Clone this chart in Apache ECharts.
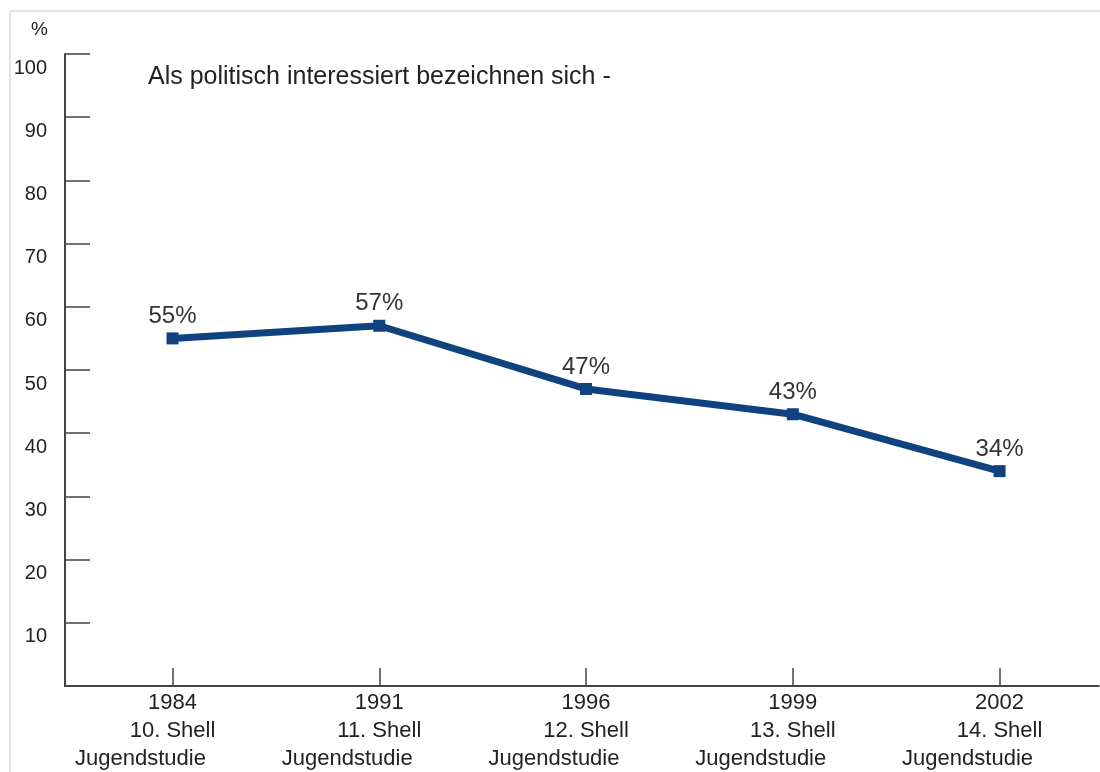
<!DOCTYPE html>
<html>
<head>
<meta charset="utf-8">
<script src="https://cdn.jsdelivr.net/npm/echarts@6/dist/echarts.min.js"></script>
<style>
  html, body { margin: 0; padding: 0; background: #fff; }
  #main { width: 1100px; height: 772px; }
</style>
</head>
<body>
<div id="main"></div>
<script>
var years = ['1984', '1991', '1996', '1999', '2002'];
var studies = ['10. Shell', '11. Shell', '12. Shell', '13. Shell', '14. Shell'];
var values = [55, 57, 47, 43, 34];
var yTicks = [10, 20, 30, 40, 50, 60, 70, 80, 90, 100];

var box = echarts.init(document.getElementById('main'));
var points = values.map(function (v, i) { return [i, v]; });
var idx = years.map(function (y, i) { return i; });

var option = {
  animation: false,
  textStyle: { fontFamily: 'Liberation Sans, Arial, sans-serif' },
  title: {
    text: 'Als politisch interessiert bezeichnen sich -',
    left: 143,
    top: 60,
    textStyle: { fontSize: 25, fontWeight: 'normal', color: '#222' }
  },
  graphic: [{
    type: 'rect',
    shape: { x: 10, y: 11, width: 1100, height: 800 },
    style: { fill: 'none', stroke: '#dddddd', lineWidth: 1.5 },
    silent: true
  }],
  grid: { left: 65, right: 0, top: 54, bottom: 86 },
  xAxis: {
    type: 'value',
    min: -0.52,
    max: 4.48,
    splitLine: { show: false },
    axisLine: { onZero: false, lineStyle: { color: '#444', width: 2 } },
    axisTick: {
      inside: true, length: 18,
      customValues: idx,
      lineStyle: { color: '#444', width: 1.5 }
    },
    axisLabel: {
      customValues: idx,
      margin: 3,
      formatter: function (v) {
        var i = Math.round(v);
        return '{a|' + years[i] + '}\n{a|' + studies[i] + '}\n{j|Jugendstudie}';
      },
      rich: {
        a: { fontSize: 22, color: '#222', lineHeight: 28, align: 'center' },
        j: { fontSize: 22, color: '#222', lineHeight: 28, padding: [0, 64, 0, 0] }
      }
    }
  },
  yAxis: {
    type: 'value',
    min: 0,
    max: 100,
    interval: 10,
    name: '%',
    nameGap: 15,
    nameTextStyle: { fontSize: 19, color: '#222', align: 'right', padding: [0, 17, 0, 0] },
    splitLine: { show: false },
    axisLine: { show: true, onZero: false, lineStyle: { color: '#444', width: 2 } },
    axisTick: {
      inside: true, length: 25,
      customValues: yTicks,
      lineStyle: { color: '#444', width: 1.5 }
    },
    axisLabel: {
      customValues: yTicks,
      margin: 18,
      fontSize: 20,
      color: '#222',
      verticalAlign: 'top',
      padding: [4, 0, 0, 0]
    }
  },
  series: [{
    type: 'line',
    data: points,
    symbol: 'rect',
    symbolSize: 12,
    lineStyle: { color: '#0f427e', width: 7 },
    itemStyle: { color: '#0f427e' },
    label: {
      show: true,
      position: 'top',
      distance: 4,
      fontSize: 24,
      color: '#333',
      formatter: function (p) { return p.value[1] + '%'; }
    }
  }]
};

box.setOption(option);
</script>
</body>
</html>
